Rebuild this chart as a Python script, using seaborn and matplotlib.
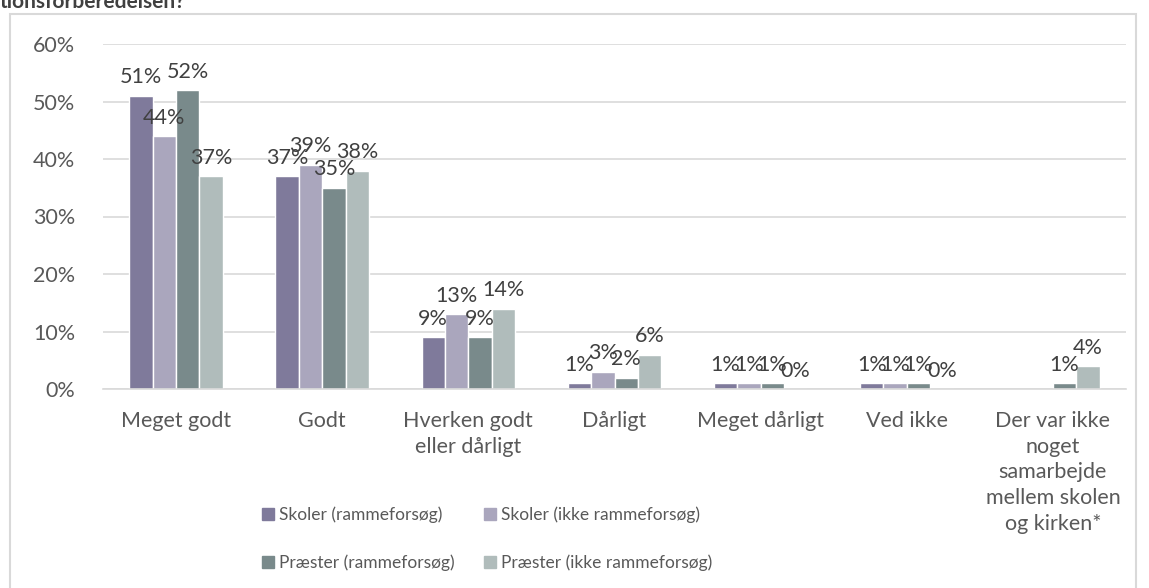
import pandas as pd
import seaborn as sns
import matplotlib.pyplot as plt
from matplotlib.patches import Rectangle
import numpy as np

sns.set_theme(style='white')
plt.rcParams['font.family'] = ['Lato', 'DejaVu Sans']

# data (procent)
kategorier = ['Meget godt', 'Godt', 'Hverken godt\neller dårligt', 'Dårligt',
              'Meget dårligt', 'Ved ikke',
              'Der var ikke\nnoget\nsamarbejde\nmellem skolen\nog kirken*']
serier = ['Skoler (rammeforsøg)', 'Skoler (ikke rammeforsøg)',
          'Præster (rammeforsøg)', 'Præster (ikke rammeforsøg)']
skoler_ramme = [51, 37, 9, 1, 1, 1, np.nan]
skoler_ikke = [44, 39, 13, 3, 1, 1, np.nan]
praester_ramme = [52, 35, 9, 2, 1, 1, 1]
praester_ikke = [37, 38, 14, 6, 0, 0, 4]
farver = ['#7f7a9b', '#aaa6bd', '#798a8b', '#b0bcbb']

df = pd.DataFrame({'Kategori': kategorier * 4,
                   'Serie': np.repeat(serier, len(kategorier)),
                   'Andel': skoler_ramme + skoler_ikke + praester_ramme + praester_ikke})

fig = plt.figure(figsize=(11.49, 5.88), dpi=100)
ax = fig.add_axes([103/1149, 1-389/588, (1126-103)/1149, (389-44)/588])

sns.barplot(data=df, x='Kategori', y='Andel', hue='Serie', hue_order=serier,
            palette=farver, width=0.64, gap=0, saturation=1, ax=ax, legend=False)

for c in ax.containers:
    ax.bar_label(c, fmt='%d%%', padding=6, fontsize=15.5, color='#404040')

ax.set_ylim(0, 60)
ax.set_yticks(range(0, 61, 10))
ax.set_yticklabels([f'{v}%' for v in range(0, 61, 10)], fontsize=15.5, color='#595959')
ax.tick_params(axis='x', labelsize=15.5, colors='#595959', length=0, pad=16)
ax.tick_params(axis='y', length=0, pad=20)
ax.set_xlabel('')
ax.set_ylabel('')
ax.set_xlim(-0.5, 6.5)
ax.yaxis.grid(True, color='#d9d9d9', linewidth=1.2)
ax.set_axisbelow(True)
for s in ['left', 'right', 'top']:
    ax.spines[s].set_visible(False)
ax.spines['bottom'].set_color('#d9d9d9')
ax.spines['bottom'].set_linewidth(1.2)
for lab in ax.get_xticklabels():
    lab.set_linespacing(1.35)

# forklaring (raekkevis: skoler oeverst)
handles = [Rectangle((0, 0), 1, 1, color=f) for f in farver]
orden = [0, 2, 1, 3]
fig.legend([handles[i] for i in orden], [serier[i] for i in orden],
           loc='center left', bbox_to_anchor=(246/1149, 1-539/588),
           ncol=2, frameon=False, fontsize=12.5, handlelength=0.7, handleheight=0.7,
           handletextpad=0.3, columnspacing=1.7, labelspacing=1.8, labelcolor='#595959')

# ramme og afskaaret titel
fig.patches.append(Rectangle((10/1149, -0.1), (1136-10)/1149, 1.1-14/588,
                             transform=fig.transFigure, fill=False,
                             edgecolor='#d9d9d9', linewidth=1.5))
fig.text(0, 1-8/588, 'tionsforberedelsen?', fontsize=15, fontweight='bold',
         color='#404040', va='baseline', ha='left')

fig.savefig('out.png', dpi=100)
